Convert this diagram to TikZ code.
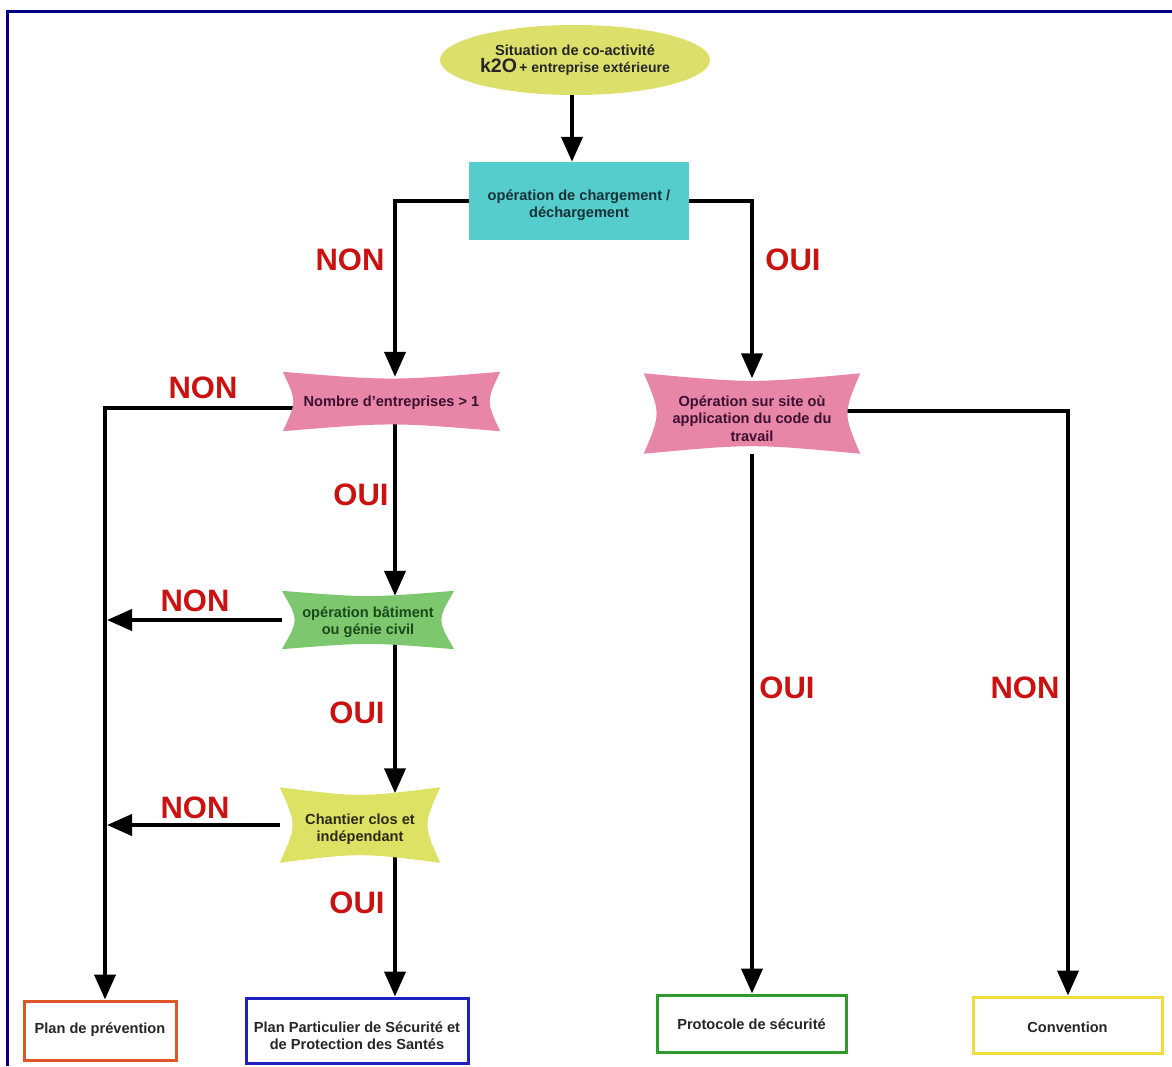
\documentclass[tikz,border=0pt]{standalone}
\usepackage{fontspec}
\setmainfont{Liberation Sans}
\usetikzlibrary{arrows.meta,calc,shapes.geometric}
\pgfdeclarelayer{back}
\pgfdeclarelayer{mid}
\pgfsetlayers{back,mid,main}
\definecolor{navyb}{RGB}{0,0,128}
\definecolor{ellfill}{RGB}{220,224,106}
\definecolor{cyanfill}{RGB}{85,205,205}
\definecolor{pinkfill}{RGB}{232,134,168}
\definecolor{greenfill}{RGB}{125,200,110}
\definecolor{yelfill}{RGB}{222,226,100}
\definecolor{lblred}{RGB}{204,17,17}
\definecolor{pinktxt}{RGB}{59,16,48}
\definecolor{greentxt}{RGB}{26,74,26}
\definecolor{yeltxt}{RGB}{42,42,16}
\definecolor{cyantxt}{RGB}{20,50,55}
\definecolor{bred}{RGB}{224,84,42}
\definecolor{bblue}{RGB}{32,32,192}
\definecolor{bgreen}{RGB}{46,154,46}
\definecolor{byellow}{RGB}{240,220,60}
\newcommand\bowshape[4]{%
  \begin{pgfonlayer}{mid}
  \fill[#2] (#1.north west) .. controls ($(#1.north)+(0,#4)$) .. (#1.north east)
    .. controls ($(#1.east)+(-#3,0)$) .. (#1.south east)
    .. controls ($(#1.south)+(0,-#4)$) .. (#1.south west)
    .. controls ($(#1.west)+(#3,0)$) .. cycle;
  \end{pgfonlayer}}
\tikzset{
  txt/.style={font=\fontsize{14.6}{17.5}\selectfont\bfseries, align=center, inner sep=0pt},
  bowbox/.style={rectangle, inner sep=0pt, minimum width=#1},
  outbox/.style={rectangle, inner sep=0pt, draw=#1, line width=3pt, fill=white},
  lbl/.style={font=\fontsize{31}{31}\selectfont\bfseries, text=lblred, inner sep=0pt},
  arr/.style={line width=4pt, -{Triangle[width=21pt,length=25pt]}}
}
\begin{document}
\begin{tikzpicture}[x=1pt,y=-1pt]
\useasboundingbox (0,0) rectangle (1172,1066);
\begin{pgfonlayer}{back}
\fill[white] (0,0) rectangle (1172,1066);
\end{pgfonlayer}
\draw[navyb, line width=3pt] (7.5,1066) -- (7.5,11.5) -- (1172,11.5);

% shapes
\node[txt, ellipse, fill=ellfill, minimum width=270pt, minimum height=70pt, text=black!85] (ell) at (575,60)
  {Situation de co-activité\\{\fontsize{19.5}{18}\selectfont k2O}\,{\fontsize{14}{17}\selectfont + entreprise extérieure}};
\node[rectangle, inner sep=0pt, fill=cyanfill, minimum width=220pt, minimum height=78pt] (box) at (579,201) {};
\node[bowbox=217pt, minimum height=59pt] (p1) at (391.5,401.5) {};
\node[bowbox=216pt, minimum height=80pt] (p2) at (752,413.5) {};
\node[bowbox=172pt, minimum height=58pt] (g) at (368,620) {};
\node[bowbox=160pt, minimum height=75pt] (y) at (360,825) {};
\bowshape{p1}{pinkfill}{14}{9}
\bowshape{p2}{pinkfill}{17}{10}
\bowshape{g}{greenfill}{17}{7}
\bowshape{y}{yelfill}{17}{10}
\node[outbox=bred, minimum width=152pt, minimum height=59pt] (b1) at (100,1030.5) {};
\node[outbox=bblue, minimum width=222pt, minimum height=65pt] (b2) at (357,1030.5) {};
\node[outbox=bgreen, minimum width=189pt, minimum height=57pt] (b3) at (751.5,1023.5) {};
\node[outbox=byellow, minimum width=189pt, minimum height=56pt] (b4) at (1067.5,1025) {};

% texts
\node[txt, text=cyantxt] (tbox) at ($(box)+(0,4)$) {opération de chargement /\\déchargement};
\node[txt, text=pinktxt] (tp1) at ($(p1)+(0,1)$) {Nombre d'entreprises > 1};
\node[txt, text=pinktxt] (tp2) at ($(p2)+(0,5)$) {Opération sur site où\\application du code du\\travail};
\node[txt, text=greentxt] (tg) at ($(g)+(0,2)$) {opération bâtiment\\ou génie civil};
\node[txt, text=yeltxt] (ty) at ($(y)+(0,4)$) {Chantier clos et\\indépendant};
\node[txt, text=black!85] (tb1) at ($(b1)+(0,-1)$) {Plan de prévention};
\node[txt, text=black!85] (tb2) at ($(b2)+(0,5)$) {Plan Particulier de Sécurité et\\de Protection des Santés};
\node[txt, text=black!85] (tb3) at ($(b3)+(0,1)$) {Protocole de sécurité};
\node[txt, text=black!85] (tb4) at ($(b4)+(0,2)$) {Convention};

% column coordinates
\coordinate (cM) at (572,0);
\coordinate (cL) at (395,0);
\coordinate (cLL) at (105,0);
\coordinate (cRR) at (1068,0);

% connectors
\begin{pgfonlayer}{back}
\draw[arr] (ell.south -| cM) -- (box.north -| cM);
\draw[arr] (box.west) -| ($(p1.north -| cL)+(0,5)$);
\draw[arr] (box.east) -| ($(p2.north)+(0,5)$);
\draw[arr] ($(p1.west)+(20,6)$) -| (b1.north -| cLL);
\draw[arr] (p1 -| cL) -- ($(g.north -| cL)+(0,5)$);
\draw[arr] (g) -- ($(g -| cLL)+(2,0)$);
\draw[arr] (g -| cL) -- ($(y.north -| cL)+(0,6)$);
\draw[arr] (y) -- ($(y -| cLL)+(2,0)$);
\draw[arr] (y -| cL) -- (b2.north -| cL);
\draw[arr] ($(p2)+(0,-3)$) -| (b4.north -| cRR);
\draw[arr] (p2) -- (p2 |- b3.north);
\end{pgfonlayer}

% labels
\node[lbl] (l1) at (350,260) {NON};
\node[lbl] (l2) at (793,260) {OUI};
\node[lbl] (l3) at (203,388) {NON};
\node[lbl] (l4) at (361,495) {OUI};
\node[lbl] (l5) at (195,601) {NON};
\node[lbl] (l6) at (357,713) {OUI};
\node[lbl] (l7) at (195,808) {NON};
\node[lbl] (l8) at (357,903) {OUI};
\node[lbl] (l9) at (787,688) {OUI};
\node[lbl] (l10) at (1025,688) {NON};
\end{tikzpicture}
\end{document}
